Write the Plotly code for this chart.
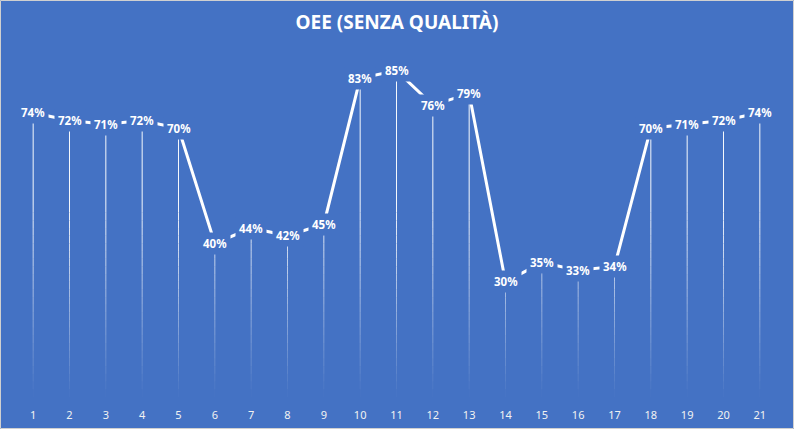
import plotly.graph_objects as go

categories = [str(i) for i in range(1, 22)]
oee_values = [0.74, 0.72, 0.71, 0.72, 0.70, 0.40, 0.44, 0.42, 0.45, 0.83, 0.85,
              0.76, 0.79, 0.30, 0.35, 0.33, 0.34, 0.70, 0.71, 0.72, 0.74]
title_text = "OEE (SENZA QUALITÀ)"

BG = "#4472C4"
W, H = 794, 429
ML, MR, MT, MB = 15, 16, 13, 32
FONT = "Noto Sans, Open Sans, sans-serif"

xpos = list(range(1, len(categories) + 1))

fig = go.Figure()

# drop lines with a fading gradient toward the axis
band = 0.02
fade_top = 0.5
n_bands = int(round(fade_top / band))
for b in range(n_bands + 1):
    lo = b * band
    hi = (b + 1) * band if b < n_bands else 10.0
    xs, ys = [], []
    for xp, v in zip(xpos, oee_values):
        if v > lo:
            xs += [xp, xp, None]
            ys += [lo, min(v, hi), None]
    if not xs:
        continue
    op = min(0.95, ((lo + min(hi, fade_top)) / 2) / fade_top * 0.95)
    fig.add_trace(go.Scatter(
        x=xs, y=ys, mode="lines",
        line=dict(color=f"rgba(255,255,255,{op:.3f})", width=1),
        hoverinfo="skip", showlegend=False))

# main line
fig.add_trace(go.Scatter(
    x=xpos, y=oee_values, mode="lines",
    line=dict(color="white", width=3),
    showlegend=False))

# data labels with background that hides the line beneath
for xp, v in zip(xpos, oee_values):
    fig.add_annotation(
        x=xp, y=v, xref="x", yref="y", text=f"<b>{v:.0%}</b>", showarrow=False,
        xanchor="center", yanchor="middle",
        font=dict(family=FONT, size=11.5, color="white"),
        bgcolor=BG, borderpad=3)

pw = W - ML - MR
ph = H - MT - MB
fig.add_shape(type="rect", xref="paper", yref="paper",
              x0=(-ML + 0.5) / pw, x1=(pw + MR - 0.5) / pw,
              y0=(-MB + 0.5) / ph, y1=(ph + MT - 0.5) / ph,
              line=dict(color="#d0d0d0", width=1), layer="below")

fig.update_layout(
    width=W, height=H,
    paper_bgcolor=BG, plot_bgcolor=BG,
    margin=dict(l=ML, r=MR, t=MT, b=MB, pad=0, autoexpand=False),
    title=dict(text=f"<b>{title_text}</b>", x=0.5, xanchor="center",
               y=1 - 22 / H, yanchor="middle", yref="container",
               font=dict(family=FONT, size=19, color="white")),
    xaxis=dict(range=[0.5, len(categories) + 0.5], tickmode="array",
               tickvals=xpos, ticktext=categories,
               showgrid=False, zeroline=False, automargin=False,
               showline=False, ticks="outside", ticklen=8, tickcolor="rgba(0,0,0,0)",
               tickfont=dict(family=FONT, size=11, color="#f2f2f2")),
    yaxis=dict(range=[0, 1.0], visible=False, showgrid=False, zeroline=False,
               automargin=False),
    showlegend=False,
)

fig.write_html("out.html", config={"displayModeBar": False},
               post_script="document.body.style.margin='0px';document.body.style.overflow='hidden';")
